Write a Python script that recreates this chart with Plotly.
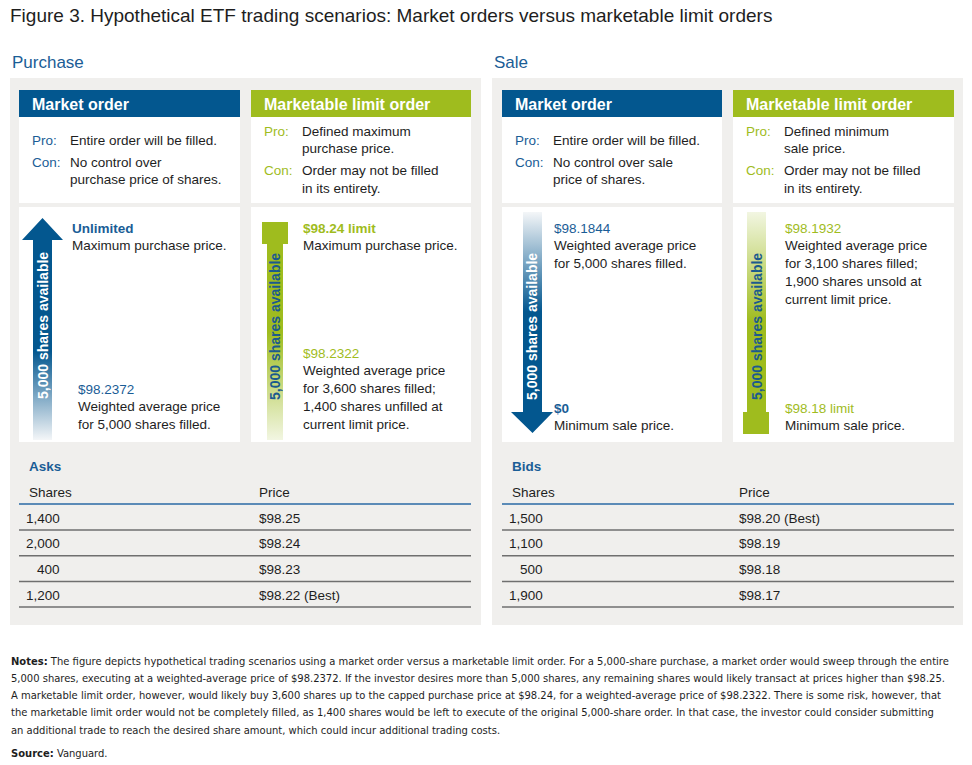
import plotly.graph_objects as go

# ---------------- data ----------------
title_text = "Figure 3. Hypothetical ETF trading scenarios: Market orders versus marketable limit orders"
sections = ["Purchase", "Sale"]
order_types = ["Market order", "Marketable limit order"]

purchase_pro_con = {
    "market": [("Pro:", ["Entire order will be filled."]),
               ("Con:", ["No control over", "purchase price of shares."])],
    "limit": [("Pro:", ["Defined maximum", "purchase price."]),
              ("Con:", ["Order may not be filled", "in its entirety."])],
}
sale_pro_con = {
    "market": [("Pro:", ["Entire order will be filled."]),
               ("Con:", ["No control over sale", "price of shares."])],
    "limit": [("Pro:", ["Defined minimum", "sale price."]),
              ("Con:", ["Order may not be filled", "in its entirety."])],
}

shares_available = "5,000 shares available"

purchase_market_top = ("Unlimited", ["Maximum purchase price."])
purchase_market_bottom = ("$98.2372", ["Weighted average price", "for 5,000 shares filled."])
purchase_limit_top = ("$98.24 limit", ["Maximum purchase price."])
purchase_limit_bottom = ("$98.2322", ["Weighted average price", "for 3,600 shares filled;",
                                      "1,400 shares unfilled at", "current limit price."])
sale_market_top = ("$98.1844", ["Weighted average price", "for 5,000 shares filled."])
sale_market_bottom = ("$0", ["Minimum sale price."])
sale_limit_top = ("$98.1932", ["Weighted average price", "for 3,100 shares filled;",
                               "1,900 shares unsold at", "current limit price."])
sale_limit_bottom = ("$98.18 limit", ["Minimum sale price."])

asks_shares = [1400, 2000, 400, 1200]
asks_prices = [98.25, 98.24, 98.23, 98.22]
asks_best = [False, False, False, True]
bids_shares = [1500, 1100, 500, 1900]
bids_prices = [98.20, 98.19, 98.18, 98.17]
bids_best = [True, False, False, False]

notes_lines = [
    "<b>Notes:</b> The figure depicts hypothetical trading scenarios using a market order versus a marketable limit order. For a 5,000-share purchase, a market order would sweep through the entire",
    "5,000 shares, executing at a weighted-average price of $98.2372. If the investor desires more than 5,000 shares, any remaining shares would likely transact at prices higher than $98.25.",
    "A marketable limit order, however, would likely buy 3,600 shares up to the capped purchase price at $98.24, for a weighted-average price of $98.2322. There is some risk, however, that",
    "the marketable limit order would not be completely filled, as 1,400 shares would be left to execute of the original 5,000-share order. In that case, the investor could consider submitting",
    "an additional trade to reach the desired share amount, which could incur additional trading costs.",
]
source_text = "<b>Source:</b> Vanguard."

# ---------------- style ----------------
W, H = 972, 765
BLUE = "#03578f"
TXTBLUE = "#1a5d96"
GREEN = "#9fbc1e"
GRAY_BG = "#f0efed"
DARK = "#1e1e1e"
FONT = "Liberation Sans, Arial, sans-serif"
NARROW = "DejaVu Sans Condensed, sans-serif"

fig = go.Figure()
shapes = []
annos = []


def rect(x0, y0, x1, y1, color):
    shapes.append(dict(type="rect", x0=x0, y0=y0, x1=x1, y1=y1, xref="x", yref="y",
                       fillcolor=color, line=dict(width=0), layer="below"))


def hline(x0, x1, y, color, width):
    shapes.append(dict(type="line", x0=x0, x1=x1, y0=y, y1=y, xref="x", yref="y",
                       line=dict(color=color, width=width), layer="below"))


def text(x, y, s, size=13.5, color=DARK, bold=False, anchor="left", family=FONT, angle=0):
    if bold:
        s = "<b>" + s + "</b>"
    annos.append(dict(x=x, y=y, xref="x", yref="y", text=s, showarrow=False,
                      xanchor=anchor, yanchor="middle", textangle=angle,
                      font=dict(size=size, color=color, family=family)))


def poly(xs, ys, colorscale, start, stop):
    fig.add_trace(go.Scatter(x=xs + [xs[0]], y=ys + [ys[0]], mode="lines", fill="toself",
                             line=dict(width=0), hoverinfo="skip",
                             fillgradient=dict(type="vertical", colorscale=colorscale,
                                               start=start, stop=stop)))


# title
text(8, 15, title_text, size=19, color=DARK)

panels = [
    dict(name=sections[0], x0=10, x1=481, cols=[(19, 240), (251, 471)], pc=purchase_pro_con,
         tab_label="Asks", shares=asks_shares, prices=asks_prices, best=asks_best,
         sh_right=62, price_x=257),
    dict(name=sections[1], x0=492, x1=963, cols=[(502, 722), (733, 954)], pc=sale_pro_con,
         tab_label="Bids", shares=bids_shares, prices=bids_prices, best=bids_best,
         sh_right=545, price_x=737),
]

for p in panels:
    text(p["x0"], 62, p["name"], size=17, color=TXTBLUE)
    rect(p["x0"], 78, p["x1"], 625, GRAY_BG)
    for ci, (cx0, cx1) in enumerate(p["cols"]):
        col = BLUE if ci == 0 else GREEN
        rect(cx0, 90, cx1, 117, col)
        rect(cx0, 117, cx1, 203, "white")
        rect(cx0, 207, cx1, 442, "white")
        text(cx0 + 11, 104, order_types[ci], size=16, color="white", bold=True)
        key = "market" if ci == 0 else "limit"
        items = p["pc"][key]
        y = 140 if ci == 0 else 131
        lx = cx0 + 11
        for lab, lines in items:
            text(lx, y, lab, size=13.5, color=TXTBLUE if ci == 0 else GREEN)
            for li, ln in enumerate(lines):
                text(lx + 38, y + li * 17.5, ln, size=13.5)
            y += 17.5 * len(lines) + 4.5
    # table
    tx0, tx1 = p["cols"][0][0], p["cols"][1][1]
    text(tx0 + 8, 466, p["tab_label"], size=13.5, color=TXTBLUE, bold=True)
    text(tx0 + 8, 492, "Shares", size=13.5)
    text(p["price_x"], 492, "Price", size=13.5)
    hline(tx0, tx1, 504, "#2a6aa5", 1.5)
    for i, (s, pr, b) in enumerate(zip(p["shares"], p["prices"], p["best"])):
        yy = 518 + i * 25.7
        text(p["sh_right"], yy, f"{s:,}", size=13.5, anchor="right")
        text(p["price_x"], yy, f"${pr:.2f}" + (" (Best)" if b else ""), size=13.5)
        hline(tx0, tx1, 530 + i * 25.7, "#6f6f6f", 1.5)

# ---- arrows / bars ----
# purchase market: blue up arrow
poly([33, 33, 22, 42.5, 63, 52, 52], [440, 240, 240, 218, 240, 240, 440],
     [[0, BLUE], [0.6, BLUE], [1, "#f4f6f8"]], 218, 440)
text(43, 326, shares_available, size=14, color="white", bold=True, anchor="center", angle=-90)
# purchase limit: green capped bar
rect(262, 222, 288, 244, GREEN)
poly([267, 283, 283, 267], [244, 244, 440, 440],
     [[0, GREEN], [0.45, GREEN], [1, "#f2f6e2"]], 244, 440)
text(275, 327, shares_available, size=14, color="#1b5a8e", bold=True, anchor="center", angle=-90)
# sale market: blue down arrow
poly([523, 542, 542, 553, 532.5, 511, 523], [212, 212, 412, 412, 433, 412, 412],
     [[0, "#f4f6f8"], [0.45, BLUE], [1, BLUE]], 212, 433)
text(532, 327, shares_available, size=14, color="white", bold=True, anchor="center", angle=-90)
# sale limit: green bar with bottom cap
poly([747, 766, 766, 747], [212, 212, 412, 412],
     [[0, "#f2f6e2"], [0.55, GREEN], [1, GREEN]], 212, 412)
rect(743, 412, 769, 434, GREEN)
text(757, 327, shares_available, size=14, color="#1b5a8e", bold=True, anchor="center", angle=-90)


def block(x, y, head, lines, color, bold_head):
    text(x, y, head, size=13.5, color=color, bold=bold_head)
    for i, ln in enumerate(lines):
        text(x, y + 17.8 * (i + 1), ln, size=13.5)


block(70, 228, purchase_market_top[0], purchase_market_top[1], TXTBLUE, True)
block(76, 389, purchase_market_bottom[0], purchase_market_bottom[1], TXTBLUE, False)
block(301, 228, purchase_limit_top[0], purchase_limit_top[1], GREEN, True)
block(301, 353, purchase_limit_bottom[0], purchase_limit_bottom[1], GREEN, False)
block(552, 228, sale_market_top[0], sale_market_top[1], TXTBLUE, False)
block(552, 408, sale_market_bottom[0], sale_market_bottom[1], TXTBLUE, True)
block(783, 228, sale_limit_top[0], sale_limit_top[1], GREEN, False)
block(783, 408, sale_limit_bottom[0], sale_limit_bottom[1], GREEN, False)

# notes
for i, ln in enumerate(notes_lines):
    text(9, 661 + i * 17.3, ln, size=11.1, family=NARROW)
text(9, 753, source_text, size=11.1, family=NARROW)

fig.update_layout(
    width=W, height=H, autosize=False,
    margin=dict(l=0, r=0, t=0, b=0),
    paper_bgcolor="white", plot_bgcolor="white",
    xaxis=dict(range=[0, W], visible=False, fixedrange=True),
    yaxis=dict(range=[H, 0], visible=False, fixedrange=True),
    showlegend=False, shapes=shapes, annotations=annos,
)
fig.write_html("out.html", config={"displayModeBar": False, "staticPlot": True},
               post_script="document.body.style.margin='0';document.body.style.overflow='hidden';")
